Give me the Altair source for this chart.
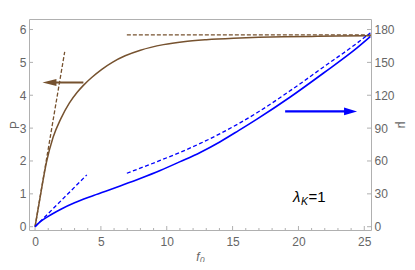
import altair as alt
import pandas as pd

# ---------------- data ----------------
# P(f0): brown solid curve, left axis
p_f0 = [0, 0.48, 0.86, 1.37, 1.95, 2.6, 3.2, 3.67, 4.3, 5.07, 5.9, 6.84, 8.0,
        9.75, 11.27, 13.0, 15.07, 17.0, 18.87, 21.0, 23.0, 25.5]
p_val = [0, 1.12, 1.95, 2.72, 3.28, 3.76, 4.09, 4.30, 4.54, 4.79, 5.01, 5.20, 5.37,
         5.54, 5.63, 5.69, 5.735, 5.762, 5.779, 5.791, 5.799, 5.807]

# brown dashed asymptotes (left axis)
p_dash_id = ["low", "low", "high", "high"]
p_dash_f0 = [0.0, 2.25, 6.97, 25.51]
p_dash_val = [0.0, 5.32, 5.84, 5.84]

# mu(f0): blue solid curve, right axis
mu_f0 = [0, 0.4, 1.0, 2.0, 3.0, 4.3, 5.57, 6.46, 7.98, 9.5, 11.02, 12.54, 14.06,
         15.45, 16.85, 19.38, 21.91, 24.45, 25.46]
mu_val = [0, 4.6, 9.5, 16.2, 21.8, 27.8, 33.3, 37.2, 44.0, 51.3, 59.4, 67.8, 77.6,
          87.7, 98.2, 118.4, 140.3, 163.2, 173.5]

# blue dashed asymptotes (right axis)
mu_dash_id = ["low", "low"] + ["high"] * 10
mu_dash_f0 = [0.0, 3.93, 6.97, 9.5, 11.02, 12.54, 14.06, 16.85, 19.38,
              21.91, 24.45, 25.46]
mu_dash_val = [0.0, 47.3, 48.8, 60.5, 67.9, 76.0, 85.0, 104.0, 124.2,
               145.8, 167.6, 177.0]

# arrows (shaft tail/end, and tip of head)
p_shaft_f0 = [3.67, 1.2]
p_shaft_val = [4.39, 4.39]
p_tip_f0 = [0.56]
p_tip_val = [4.39]
mu_shaft_f0 = [18.99, 23.9]
mu_shaft_val = [105.2, 105.2]
mu_tip_f0 = [24.45]
mu_tip_val = [105.2]

# axis ticks
x_major = [0, 5, 10, 15, 20, 25]
x_minor = [i for i in range(1, 26) if i % 5]
p_ticks = [0, 1, 2, 3, 4, 5, 6]
mu_ticks = [0, 30, 60, 90, 120, 150, 180]

# annotation anchor
label_f0 = [19.58]
label_p = [0.76]

# ---------------- styling ----------------
W, H = 342, 211
XDOM = [-0.46, 25.51]
PDOM = [-0.10, 6.32]
MDOM = [-3.0, 189.6]
BROWN = "#76522f"
BLUE = "#0000ff"
GRAY = "#666666"
FRAME = "#b0b0b0"
FONT = "Liberation Sans"

X_AXIS = alt.Axis(title="f₀", values=x_major, ticks=False, domain=False, grid=False,
                  labelPadding=6, titleFontStyle="italic", titleY=26,
                  titleBaseline="middle")
P_AXIS = alt.Axis(title="P", orient="left", values=p_ticks, ticks=False, domain=False,
                  grid=False, labelPadding=3, titleAngle=270, titleX=-15, titleY=H / 2,
                  titleBaseline="middle", titleAlign="center")
M_AXIS = alt.Axis(title="μ", orient="right", values=mu_ticks, ticks=False, domain=False,
                  grid=False, labelPadding=3, titleAngle=90, titleX=30, titleY=H / 2,
                  titleBaseline="middle", titleAlign="center")


def X(field="x"):
    return alt.X(f"{field}:Q", scale=alt.Scale(domain=XDOM, nice=False, zero=False), axis=X_AXIS)


def YP(field="y"):
    return alt.Y(f"{field}:Q", scale=alt.Scale(domain=PDOM, nice=False, zero=False), axis=P_AXIS)


def YM(field="y"):
    return alt.Y(f"{field}:Q", scale=alt.Scale(domain=MDOM, nice=False, zero=False), axis=M_AXIS)


def df(xs, ys, ids=None):
    d = pd.DataFrame({"x": xs, "y": ys, "i": list(range(len(xs)))})
    if ids is not None:
        d["g"] = ids
    return d


# ---------------- left (P) layer ----------------
p_curve = alt.Chart(df(p_f0, p_val)).mark_line(
    color=BROWN, strokeWidth=1.5, interpolate="monotone").encode(
    x=X(), y=YP(), order="i:Q")
p_dash = alt.Chart(df(p_dash_f0, p_dash_val, p_dash_id)).mark_line(
    color=BROWN, strokeWidth=1.3, strokeDash=[4, 2]).encode(
    x=X(), y=YP(), detail="g:N", order="i:Q")
p_shaft = alt.Chart(df(p_shaft_f0, p_shaft_val)).mark_line(color=BROWN, strokeWidth=2).encode(
    x=X(), y=YP(), order="i:Q")
p_head = alt.Chart(df(p_tip_f0, p_tip_val)).mark_point(
    shape="M0,0L2,-0.5L2,0.5Z", filled=True, size=196, color=BROWN, opacity=1,
    strokeWidth=0).encode(x=X(), y=YP())

x_major_t = alt.Chart(pd.DataFrame({"x": x_major, "y": [0.0] * len(x_major)})).mark_rule(
    color=FRAME, strokeWidth=1).encode(x=X(), y=alt.value(H), y2=alt.value(H - 4))
x_minor_t = alt.Chart(pd.DataFrame({"x": x_minor, "y": [0.0] * len(x_minor)})).mark_rule(
    color=FRAME, strokeWidth=1).encode(x=X(), y=alt.value(H), y2=alt.value(H - 2))
p_t = alt.Chart(pd.DataFrame({"y": p_ticks})).mark_rule(color=FRAME, strokeWidth=1).encode(
    y=YP(), x=alt.value(0), x2=alt.value(4))

lab = pd.DataFrame({"x": label_f0, "y": label_p})
lam = alt.Chart(lab).mark_text(text="λ", font=FONT, fontSize=15, fontStyle="italic",
                               color="black", align="left", baseline="alphabetic").encode(
    x=X(), y=YP())
sub = alt.Chart(lab).mark_text(text="K", font=FONT, fontSize=10.5, fontStyle="italic",
                               color="black", align="left", baseline="alphabetic",
                               dx=8, dy=3.5).encode(x=X(), y=YP())
eq = alt.Chart(lab).mark_text(text="=1", font=FONT, fontSize=15, color="black",
                              align="left", baseline="alphabetic", dx=15.5).encode(
    x=X(), y=YP())

left = alt.layer(p_curve, p_dash, p_shaft, p_head, x_major_t, x_minor_t, p_t, lam, sub, eq)

# ---------------- right (mu) layer ----------------
mu_curve = alt.Chart(df(mu_f0, mu_val)).mark_line(
    color=BLUE, strokeWidth=1.6, interpolate="monotone").encode(
    x=X(), y=YM(), order="i:Q")
mu_dash = alt.Chart(df(mu_dash_f0, mu_dash_val, mu_dash_id)).mark_line(
    color=BLUE, strokeWidth=1.3, strokeDash=[4, 2.5], interpolate="monotone").encode(
    x=X(), y=YM(), detail="g:N", order="i:Q")
mu_shaft = alt.Chart(df(mu_shaft_f0, mu_shaft_val)).mark_line(color=BLUE, strokeWidth=2.2).encode(
    x=X(), y=YM(), order="i:Q")
mu_head = alt.Chart(df(mu_tip_f0, mu_tip_val)).mark_point(
    shape="M0,0L-2,-0.6L-2,0.6Z", filled=True, size=169, color=BLUE, opacity=1,
    strokeWidth=0).encode(x=X(), y=YM())
mu_t = alt.Chart(pd.DataFrame({"y": mu_ticks})).mark_rule(color=FRAME, strokeWidth=1).encode(
    y=YM(), x=alt.value(W), x2=alt.value(W - 4))

right = alt.layer(mu_curve, mu_dash, mu_shaft, mu_head, mu_t)

chart = alt.layer(left, right).resolve_scale(y="independent").properties(
    width=W, height=H,
    padding={"left": 0, "top": 11, "right": 0, "bottom": 0},
    background="white",
).configure_view(stroke=FRAME, strokeWidth=1).configure_axis(
    labelFont=FONT, labelFontSize=12, labelColor=GRAY,
    titleFont=FONT, titleFontSize=12, titleColor=GRAY, titleFontWeight="normal",
)

chart.save("out.html", embed_options={"renderer": "svg", "actions": False})
